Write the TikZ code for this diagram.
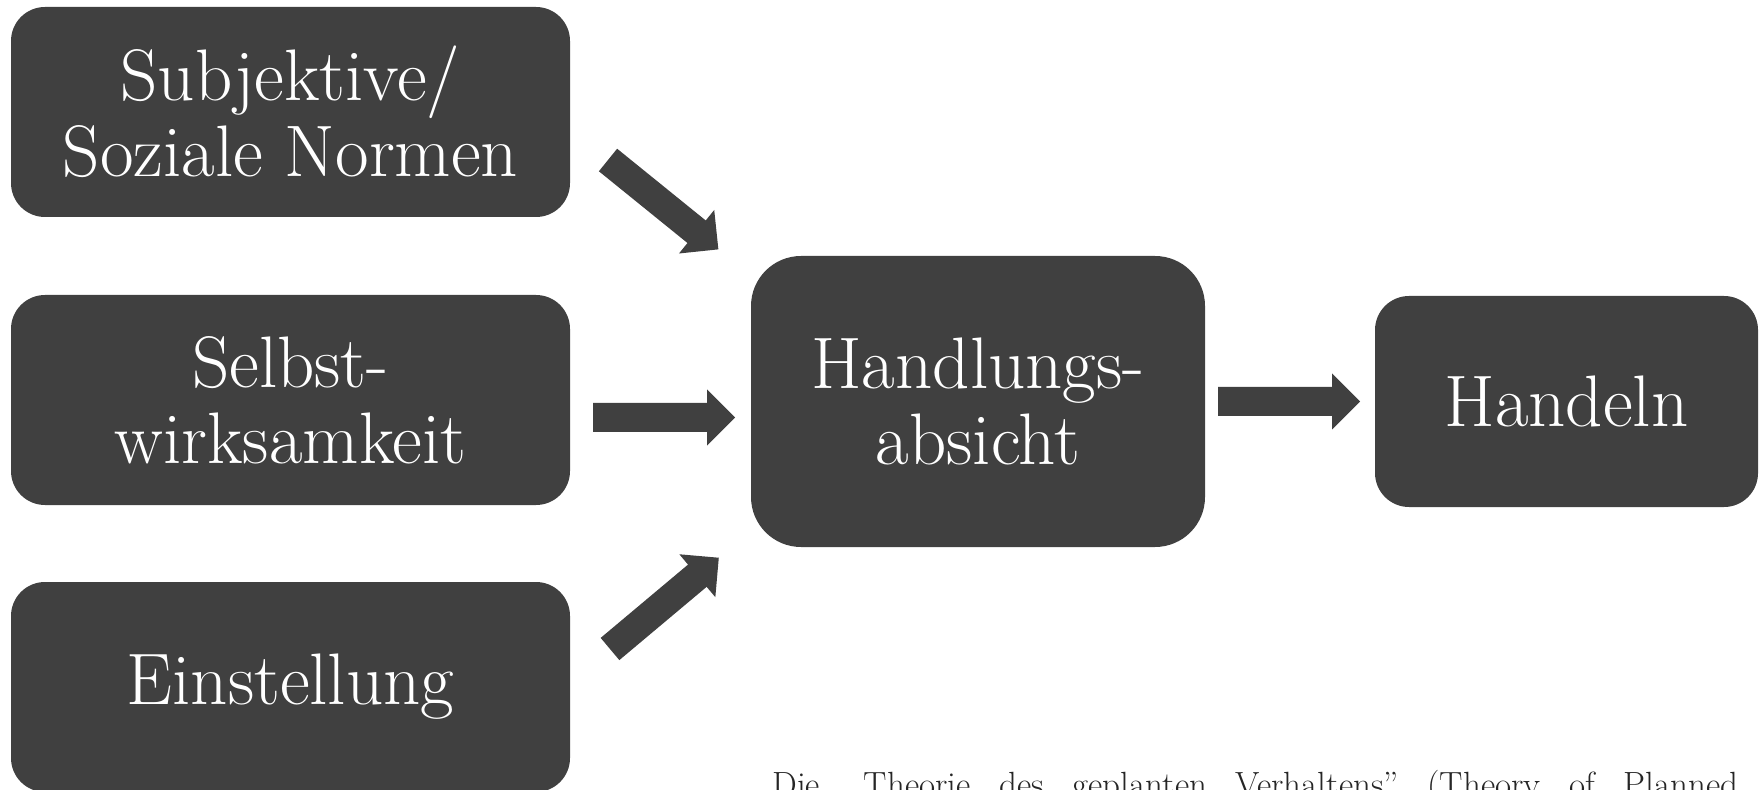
\documentclass[tikz,border=0pt]{standalone}
\usepackage{fontspec}
\definecolor{boxgray}{HTML}{404040}
\definecolor{captgray}{HTML}{262626}
\newcommand\blockarrow[2]{\fill[blk,shift={(#1)},rotate=#2] (0,-14.5) -- (114,-14.5) -- (114,-28) -- (142,0) -- (114,28) -- (114,14.5) -- (0,14.5) -- cycle;}
\begin{document}
\begin{tikzpicture}[x=0.5pt,y=-0.5pt,
  box/.style={fill=boxgray, text=white, rounded corners=17pt, align=center,
    font=\fontsize{36.5}{38}\selectfont, inner sep=0pt},
  smallbox/.style={box, minimum width=279.5pt, minimum height=105pt},
  blk/.style={fill=boxgray}]
\useasboundingbox (0,0) rectangle (1764,790);
\node[smallbox] (sn) at (290.5,112) {Subjektive/\\Soziale Normen};
\node[smallbox] (sw) at (290.5,400) {Selbst-\\wirksamkeit};
\node[smallbox] (ei) at (290.5,687) {Einstellung};
\node[box, minimum width=227pt, minimum height=145.5pt, rounded corners=25pt] (ha) at (978,401.5) {Handlungs-\\absicht};
\node[box, minimum width=191.5pt, minimum height=105.5pt] (hd) at (1566.5,401.5) {Handeln};
\blockarrow{608,160}{-39}
\blockarrow{593,417.5}{0}
\blockarrow{610,649}{40}
\blockarrow{1218,401.5}{0}
\node[anchor=base west, inner sep=0pt, font=\fontsize{17.5}{20}\selectfont, text=captgray] (cap) at (772,796)
  {\makebox[483pt][s]{Die „Theorie des geplanten Verhaltens” (Theory of Planned}};
\end{tikzpicture}
\end{document}
